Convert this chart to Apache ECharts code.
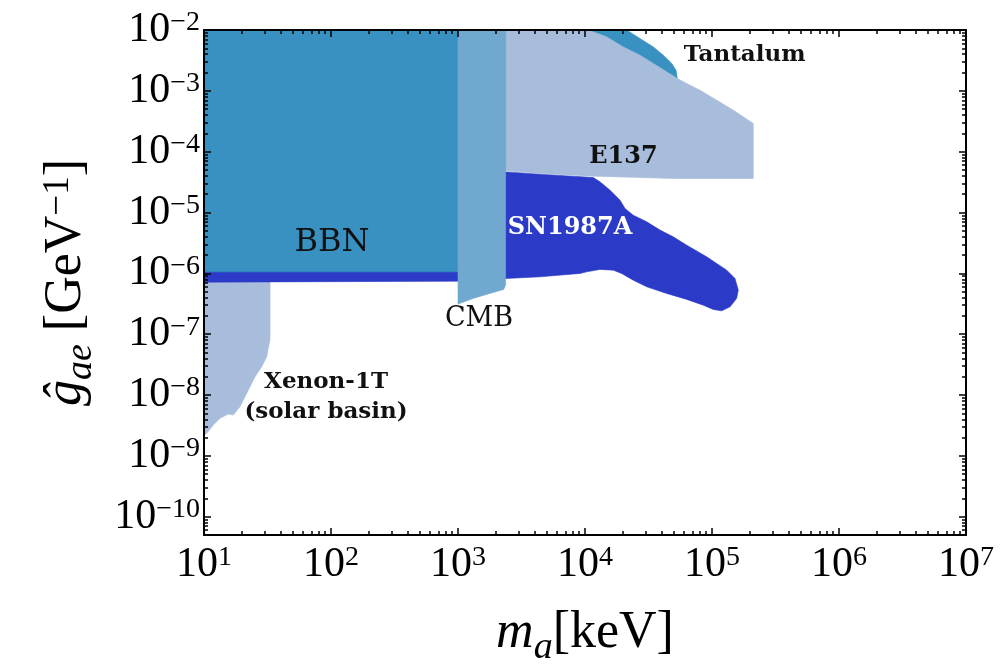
<!DOCTYPE html>
<html><head><meta charset="utf-8">
<script src="https://cdn.jsdelivr.net/npm/echarts@6/dist/echarts.min.js"></script>
<style>html,body{margin:0;padding:0;background:#fff}#c{width:1006px;height:665px}</style>
</head><body><div id="c"></div>
<script>
// ---- axis data (log10 units) ----
const xTickExps = [1, 2, 3, 4, 5, 6, 7];                 // m_a = 10^n keV
const yTickExps = [-10, -9, -8, -7, -6, -5, -4, -3, -2];  // g_ae = 10^n GeV^-1
const xRange = [1, 7];
const yRange = [-10.3, -2];

// ---- excluded regions: [log10(m_a/keV), log10(g_ae*GeV)] ----
const xenon1T = [[1.0,-6.1],[1.52,-6.1],[1.52,-7.085],[1.506,-7.233],[1.494,-7.371],[1.454,-7.536],
  [1.402,-7.70],[1.336,-7.973],[1.283,-8.193],[1.231,-8.329],[1.191,-8.313],[1.126,-8.383],
  [1.073,-8.493],[1.021,-8.63],[1.0,-8.658]];
const sn1987A = [[1.0,-5.9],[3.2,-5.9],[3.2,-4.33],[3.383,-4.332],[3.646,-4.369],[4.065,-4.424],
  [4.118,-4.496],[4.197,-4.632],[4.276,-4.797],[4.315,-4.933],[4.38,-5.043],[4.486,-5.153],
  [4.591,-5.288],[4.695,-5.40],[4.801,-5.536],[4.958,-5.728],[5.116,-5.947],[5.181,-6.083],
  [5.207,-6.275],[5.194,-6.412],[5.142,-6.55],[5.076,-6.616],[5.01,-6.593],[4.931,-6.522],
  [4.801,-6.428],[4.643,-6.33],[4.486,-6.221],[4.38,-6.111],[4.288,-6.001],[4.223,-5.947],
  [4.118,-5.935],[4.013,-5.975],[3.961,-6.001],[3.646,-6.057],[3.383,-6.083],[3.0,-6.128],[1.0,-6.144]];
const bbn = [[1.0,-2],[3.15,-2],[3.15,-5.975],[1.0,-5.975]];
const tantalum = [[4.0,-2],[4.328,-2],[4.433,-2.14],[4.538,-2.278],[4.617,-2.414],[4.683,-2.55],
  [4.717,-2.661],[4.727,-2.797],[4.5,-3.0],[4.0,-3.0]];
const e137 = [[3.3,-2],[4.026,-2],[4.171,-2.113],[4.302,-2.278],[4.433,-2.414],[4.538,-2.55],
  [4.643,-2.688],[4.727,-2.797],[4.801,-2.879],[4.906,-2.989],[5.037,-3.153],[5.169,-3.318],
  [5.325,-3.536],[5.325,-4.44],[4.695,-4.44],[4.065,-4.402],[3.646,-4.358],[3.383,-4.315],[3.3,-4.31]];
const cmb = [[3.0,-2],[3.375,-2],[3.375,-6.19],[3.36,-6.264],[3.25,-6.33],[3.118,-6.412],[3.0,-6.505]];

// ---- region labels: [text, log10 m_a, log10 g_ae] ----
const annotations = [
  ['BBN', 2.008, -5.503],
  ['SN1987A', 3.882, -5.257],
  ['CMB', 3.165, -6.752],
  ['E137', 4.303, -4.09],
  ['Tantalum', 5.257, -2.414],
  ['Xenon-1T\n(solar basin)', 1.961, -8.034]
];

// ---- styles ----
const serif = 'Liberation Serif';
const regionStyle = [
  [xenon1T, '#A7BDDB'],
  [sn1987A, '#2B3BC7'],
  [bbn, '#3891C0'],
  [tantalum, '#3891C0'],
  [e137, '#A7BDDB'],
  [cmb, '#70A8CF']
];
const labelStyle = {
  'BBN': {fill:'#111', fontSize:32, fontWeight:'normal'},
  'SN1987A': {fill:'#fff', fontSize:24, fontWeight:'bold'},
  'CMB': {fill:'#111', fontSize:27, fontWeight:'normal'},
  'E137': {fill:'#111', fontSize:24, fontWeight:'bold'},
  'Tantalum': {fill:'#111', fontSize:23, fontWeight:'bold'},
  'Xenon-1T\n(solar basin)': {fill:'#111', fontSize:23, fontWeight:'bold', lineHeight:30}
};

const xMinor = [], yMinor = [];
for (let n = xRange[0]; n < xRange[1]; n++) for (let k = 2; k <= 9; k++) xMinor.push(n + Math.log10(k));
for (let n = -11; n < -2; n++) for (let k = 2; k <= 9; k++) {
  const v = n + Math.log10(k);
  if (v >= yRange[0] && v <= yRange[1]) yMinor.push(v);
}

const tickRich = {
  b: {fontFamily: serif, fontSize: 42, lineHeight: 42, color: '#000', verticalAlign: 'bottom'},
  s: {fontFamily: serif, fontSize: 28, lineHeight: 19, color: '#000', verticalAlign: 'top'}
};
const powLabel = v => {
  const e = Math.round(v);
  return '{b|10}{s|' + (e < 0 ? '\u2212' + (-e) : String(e)) + '}';
};

const line = {show: true, onZero: false, lineStyle: {color: '#000', width: 2}};
const noLine = {show: false, onZero: false};
function axis(kind, pos, minor, extra) {
  const rng = kind === 'x' ? xRange : yRange;
  const major = kind === 'x' ? xTickExps : yTickExps;
  const o = {
    type: 'value', position: pos, min: rng[0], max: rng[1], z: 10,
    splitLine: {show: false},
    axisLine: minor ? noLine : line,
    axisTick: {show: true, inside: true, length: minor ? 4 : 7,
      lineStyle: {color: '#000', width: 1.5}, customValues: minor ? (kind === 'x' ? xMinor : yMinor) : major},
    axisLabel: {show: false}
  };
  if (kind === 'x') o.interval = 1;
  return Object.assign(o, extra || {});
}

const titleRich = {
  i: {fontFamily: serif, fontStyle: 'italic', fontSize: 52, lineHeight: 56, color: '#000', verticalAlign: 'top'},
  a: {fontFamily: serif, fontStyle: 'italic', fontSize: 38, lineHeight: 60, color: '#000', verticalAlign: 'bottom'},
  r: {fontFamily: serif, fontSize: 52, lineHeight: 56, color: '#000', verticalAlign: 'top'},
  p: {fontFamily: serif, fontSize: 37, lineHeight: 26, color: '#000', verticalAlign: 'top'}
};

const xAxes = [
  axis('x', 'bottom', false, {
    axisLabel: {show: true, customValues: xTickExps, margin: 9, formatter: powLabel, rich: tickRich},
    name: '{i|m}{a|a}{r|[keV]}', nameLocation: 'middle', nameGap: 72,
    nameTextStyle: {rich: titleRich}
  }),
  axis('x', 'bottom', true),
  axis('x', 'top', false),
  axis('x', 'top', true)
];
const yAxes = [
  axis('y', 'left', false, {
    axisLabel: {show: true, customValues: yTickExps, margin: 4, formatter: powLabel, rich: tickRich},
    name: '{i|\u011D}{a|ae}{r| [GeV}{p|\u22121}{r|]}', nameLocation: 'middle', nameRotate: 90, nameGap: 104,
    nameTextStyle: {rich: titleRich}
  }),
  axis('y', 'left', true),
  axis('y', 'right', false),
  axis('y', 'right', true)
];

const series = regionStyle.map(([pts, color], i) => ({
  type: 'custom', xAxisIndex: 0, yAxisIndex: 0, silent: true, z: 2 + i * 0.01,
  data: [[xRange[0], yRange[0]]],
  renderItem: (params, api) => ({
    type: 'polygon',
    shape: {points: pts.map(p => api.coord(p))},
    style: {fill: color, stroke: color, lineWidth: 0.6}
  })
}));
series.push({
  type: 'custom', xAxisIndex: 0, yAxisIndex: 0, silent: true, z: 5,
  data: annotations.map(a => [a[1], a[2]]),
  renderItem: (params, api) => {
    const a = annotations[params.dataIndex];
    const st = labelStyle[a[0]];
    const p = api.coord([api.value(0), api.value(1)]);
    return {
      type: 'text', x: p[0], y: p[1],
      style: Object.assign({text: a[0], fontFamily: 'DejaVu Serif', align: 'center', verticalAlign: 'middle'}, st)
    };
  }
});

const chart = echarts.init(document.getElementById('c'), null, {renderer: 'canvas'});
chart.setOption({
  animation: false,
  backgroundColor: '#fff',
  grid: {left: 204, right: 40, top: 30, bottom: 130, containLabel: false, outerBoundsMode: 'none'},
  xAxis: xAxes,
  yAxis: yAxes,
  series: series
});
</script></body></html>
